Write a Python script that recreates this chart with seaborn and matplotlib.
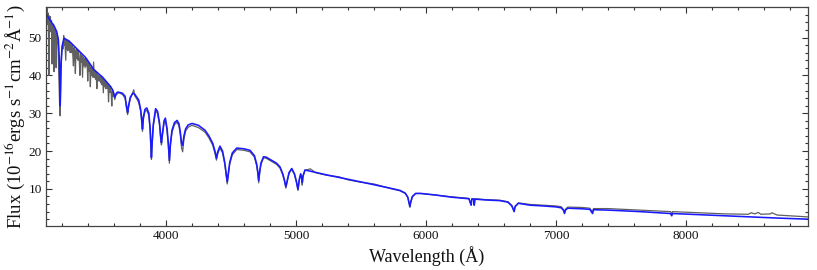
import matplotlib
matplotlib.use("Agg")
import matplotlib.pyplot as plt
import seaborn as sns
import pandas as pd
from matplotlib.ticker import MultipleLocator

# ---- model spectrum (blue) ----
model_wl = [3077, 3100, 3120, 3140, 3160, 3172, 3180, 3186, 3192, 3200, 3215, 3254, 3318, 3382, 3446,
            3510, 3575, 3592, 3606, 3618, 3630, 3664, 3685, 3698, 3705, 3712, 3725, 3745, 3760, 3790,
            3805, 3813, 3819, 3826, 3838, 3852, 3868, 3878, 3884, 3888, 3893, 3902, 3920, 3935, 3950,
            3960, 3965, 3972, 3985, 3995, 4008, 4018, 4026, 4034, 4046, 4065, 4085, 4100, 4110, 4120,
            4128, 4138, 4150, 4170, 4200, 4250, 4300, 4330, 4360, 4378, 4388, 4398, 4415, 4435, 4452,
            4463, 4471, 4479, 4490, 4510, 4544, 4600, 4646, 4680, 4698, 4706, 4713, 4720, 4730, 4750,
            4770, 4850, 4877, 4898, 4910, 4922, 4934, 4946, 4967, 4988, 5003, 5015, 5025, 5036, 5043,
            5048, 5054, 5069, 5236, 5492, 5750, 5800, 5840, 5860, 5870, 5876, 5882, 5895, 5920, 5960,
            6070, 6200, 6330, 6347, 6352, 6366, 6371, 6376, 6450, 6569, 6630, 6660, 6678, 6685, 6710,
            6800, 6900, 7000, 7040, 7058, 7065, 7072, 7090, 7200, 7260, 7281, 7288, 7400, 7646, 7880,
            7890, 7896, 8030, 8300, 8500, 8700, 8938]
model_flux = [56.3, 55.0, 54.0, 53.0, 51.5, 49.5, 44.0, 32.0, 42.0, 47.5, 49.8, 49.1, 46.9, 44.7, 41.5,
              39.6, 37.0, 36.0, 34.2, 35.3, 35.6, 35.3, 34.5, 31.5, 30.2, 32.0, 34.2, 35.3, 35.0, 33.5,
              31.0, 28.5, 25.8, 29.0, 31.0, 31.4, 30.0, 26.0, 21.0, 18.3, 22.0, 27.0, 31.2, 30.5, 27.5,
              23.5, 22.2, 24.5, 28.0, 28.7, 26.0, 22.0, 17.5, 22.0, 25.5, 27.5, 28.1, 27.2, 25.0, 22.0,
              21.5, 24.0, 25.8, 26.9, 27.3, 26.8, 25.5, 24.0, 22.0, 19.8, 18.1, 19.8, 21.3, 20.0, 17.0,
              14.0, 11.9, 14.0, 17.0, 19.5, 20.8, 20.6, 20.2, 18.8, 16.5, 14.5, 12.2, 14.5, 16.8, 18.5,
              18.4, 16.8, 15.8, 14.0, 12.5, 10.6, 12.5, 14.3, 15.4, 14.0, 12.0, 9.9, 12.5, 14.0, 13.0,
              11.7, 13.5, 15.0, 13.7, 11.9, 10.0, 9.6, 8.9, 7.8, 6.3, 5.3, 6.5, 8.0, 8.8, 8.8,
              8.4, 7.8, 7.4, 5.7, 7.3, 7.3, 5.7, 7.3, 7.1, 6.9, 6.5, 5.5, 4.0, 5.3, 6.2,
              5.7, 5.5, 5.25, 5.0, 4.3, 3.5, 4.4, 4.9, 4.75, 4.6, 3.5, 4.5, 4.4, 4.0, 3.5,
              2.9, 3.5, 3.3, 2.9, 2.6, 2.3, 2.0]

# ---- observed spectrum (grey) ----
obs_wl = [3077, 3081, 3085, 3089, 3093, 3097, 3100, 3103, 3107, 3111, 3115, 3119, 3123, 3127, 3131,
          3135, 3139, 3143, 3147, 3151, 3155, 3159, 3163, 3167, 3171, 3176, 3181, 3186, 3191, 3196,
          3201, 3205, 3209, 3213, 3217, 3221, 3225, 3229, 3233, 3237, 3241, 3245, 3249, 3253, 3258,
          3263, 3268, 3273, 3278, 3283, 3288, 3293, 3298, 3303, 3308, 3313, 3318, 3323, 3328, 3333,
          3338, 3343, 3348, 3353, 3358, 3363, 3368, 3373, 3378, 3383, 3388, 3393, 3398, 3403, 3408,
          3413, 3418, 3423, 3428, 3433, 3438, 3443, 3448, 3453, 3458, 3463, 3468, 3473, 3478, 3483,
          3488, 3493, 3498, 3503, 3508, 3513, 3518, 3523, 3528, 3533, 3538, 3543, 3548, 3553, 3558,
          3563, 3568, 3573, 3578, 3583, 3588, 3593, 3598, 3606, 3614, 3622, 3630, 3640,
          3650, 3664, 3685, 3698, 3705, 3712, 3725, 3745, 3752, 3760, 3775, 3790, 3805, 3813, 3819,
          3826, 3838, 3852, 3868, 3878, 3884, 3888, 3893, 3902, 3920, 3935, 3950, 3960, 3965, 3972,
          3985, 3995, 4008, 4018, 4026, 4034, 4046, 4065, 4085, 4100, 4110, 4120, 4128, 4138, 4150,
          4170, 4200, 4250, 4300, 4330, 4360, 4378, 4388, 4398, 4415, 4435, 4452, 4463, 4471, 4479,
          4490, 4510, 4544, 4600, 4646, 4680, 4698, 4706, 4713, 4720, 4730, 4750, 4770, 4850, 4877,
          4898, 4910, 4922, 4934, 4946, 4967, 4988, 5003, 5015, 5025, 5036, 5043, 5048, 5054, 5069,
          5110, 5150, 5236, 5330, 5400, 5492, 5600, 5750, 5800, 5840, 5860, 5870, 5876, 5882, 5895,
          5920, 5960, 6070, 6200, 6330, 6347, 6352, 6366, 6371, 6376, 6450, 6569, 6630, 6660, 6678,
          6685, 6710, 6800, 6900, 7000, 7040, 7058, 7065, 7072, 7090, 7200, 7260, 7281, 7288, 7400,
          7646, 7880, 7890, 7896, 8030, 8300, 8480, 8500, 8530, 8555, 8575, 8650, 8660, 8700, 8938]
obs_flux = [57.8, 54.5, 58.0, 53.5, 56.5, 50.0, 40.0, 55.5, 52.5, 55.5, 51.5, 54.5, 43.0, 53.5, 50.5,
            53.5, 41.0, 52.5, 49.5, 51.8, 42.0, 51.0, 48.5, 50.0, 46.0, 40.0, 33.0, 29.3, 38.0, 45.0,
            47.0, 48.5, 47.0, 50.5, 48.0, 49.8, 47.0, 44.0, 49.5, 47.0, 49.2, 46.5, 49.0, 47.0, 48.8,
            46.0, 48.4, 46.0, 48.0, 45.5, 42.5, 47.4, 45.0, 40.5, 46.8, 44.5, 46.8, 44.0, 46.4, 44.0,
            40.0, 45.8, 43.5, 45.2, 39.5, 44.8, 42.5, 44.4, 42.0, 44.5, 42.5, 43.8, 38.5, 43.2, 41.0,
            42.8, 37.0, 42.2, 40.0, 41.8, 39.5, 43.5, 39.5, 41.2, 39.0, 40.8, 36.5, 40.4, 38.5, 40.0,
            38.5, 39.8, 38.0, 39.6, 37.5, 39.3, 35.4, 39.0, 37.0, 38.6, 36.5, 38.2, 36.5, 37.8, 33.0,
            37.4, 35.5, 37.0, 35.5, 31.9, 36.0, 34.5, 35.2, 33.6, 34.8, 35.0, 35.3, 35.4,
            35.2, 35.0, 34.0, 30.8, 29.6, 31.5, 33.8, 35.5, 36.2, 34.6, 33.8, 32.8, 30.5, 27.5, 25.2,
            28.4, 30.5, 30.8, 29.4, 25.4, 20.3, 17.8, 21.4, 26.4, 30.6, 30.0, 26.9, 22.8, 21.6, 23.9,
            27.4, 28.1, 25.4, 21.3, 16.8, 21.3, 24.9, 27.0, 27.6, 26.6, 24.3, 20.8, 19.8, 23.2, 25.2,
            26.3, 26.8, 26.2, 25.0, 23.5, 21.5, 19.2, 17.6, 19.3, 20.8, 19.5, 16.5, 13.5, 11.3, 13.5,
            16.5, 19.0, 20.4, 20.2, 19.8, 18.4, 16.0, 14.0, 11.6, 14.0, 16.4, 18.2, 18.1, 16.5, 15.5,
            13.7, 12.2, 10.2, 12.2, 14.0, 15.2, 13.8, 11.7, 9.6, 12.2, 13.8, 12.6, 11.0, 13.2, 14.9,
            15.3, 14.3, 13.6, 13.2, 12.4, 11.8, 11.3, 9.9, 9.5, 8.8, 7.7, 6.2, 5.2, 6.4, 7.9,
            8.8, 8.8, 8.4, 7.9, 7.5, 5.8, 7.4, 7.4, 5.8, 7.4, 7.2, 7.0, 6.6, 5.6, 4.1,
            5.4, 6.3, 5.9, 5.7, 5.5, 5.3, 4.5, 3.7, 4.6, 5.2, 5.1, 4.9, 3.8, 4.8, 4.8,
            4.4, 4.0, 3.5, 4.0, 3.8, 3.4, 3.3, 3.7, 3.4, 3.8, 3.3, 3.4, 3.7, 3.1, 2.6]

x_ticks = [4000, 5000, 6000, 7000, 8000]
y_ticks = [10, 20, 30, 40, 50]

model_df = pd.DataFrame({"wl": model_wl, "flux": model_flux})
obs_df = pd.DataFrame({"wl": obs_wl, "flux": obs_flux})

sns.set_theme(style="ticks")
plt.rcParams["font.family"] = ["Liberation Serif", "DejaVu Serif"]
plt.rcParams["mathtext.fontset"] = "stix"

fig = plt.figure(figsize=(8.17, 2.70), dpi=100)
ax = fig.add_axes([46 / 817, 1 - 226 / 270, (808 - 46) / 817, (226 - 6.5) / 270])

sns.lineplot(data=obs_df, x="wl", y="flux", ax=ax, color="#606060", lw=0.9,
             estimator=None, sort=False)
sns.lineplot(data=model_df, x="wl", y="flux", ax=ax, color="#1a1aff", lw=1.15,
             estimator=None, sort=False)

ax.set_xlim(3077, 8938)
ax.set_ylim(0.2, 58.2)
ax.set_xticks(x_ticks)
ax.set_yticks(y_ticks)
ax.xaxis.set_minor_locator(MultipleLocator(200))
ax.yaxis.set_minor_locator(MultipleLocator(2))
ax.tick_params(which="both", direction="in", top=True, right=True, colors="#333333",
               labelcolor="#111111", labelsize=9.5, width=0.8, pad=3)
ax.tick_params(which="major", length=4.5)
ax.tick_params(which="minor", length=2.5)
for s in ax.spines.values():
    s.set_color("#444444")
    s.set_linewidth(0.9)

ax.set_xlabel("Wavelength (Å)", fontsize=13, color="#111111", labelpad=3)
ax.set_ylabel(r"Flux (10$^{-16}$ergs s$^{-1}$cm$^{-2}$Å$^{-1}$)", fontsize=13.5, color="#111111",
              labelpad=1)

fig.savefig("out.png", dpi=100)
